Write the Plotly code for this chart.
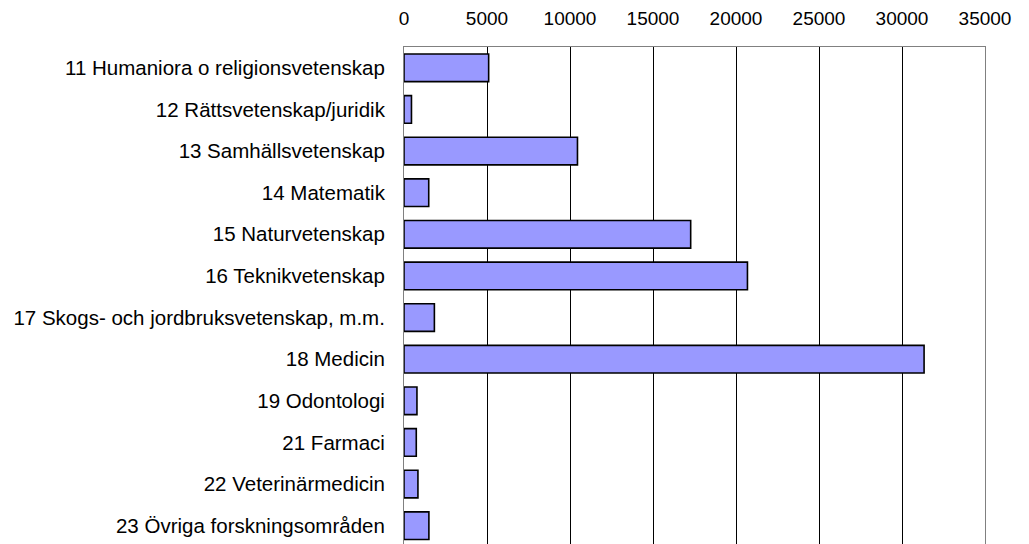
import plotly.graph_objects as go

# Research areas and their values
categories = [
    "11 Humaniora o religionsvetenskap",
    "12 Rättsvetenskap/juridik",
    "13 Samhällsvetenskap",
    "14 Matematik",
    "15 Naturvetenskap",
    "16 Teknikvetenskap",
    "17 Skogs- och jordbruksvetenskap, m.m.",
    "18 Medicin",
    "19 Odontologi",
    "21 Farmaci",
    "22 Veterinärmedicin",
    "23 Övriga forskningsområden",
]
values = [5100, 450, 10450, 1490, 17270, 20690, 1830, 31330, 780, 740, 840, 1500]
x_ticks = [0, 5000, 10000, 15000, 20000, 25000, 30000, 35000]

fig = go.Figure(
    go.Bar(
        x=values,
        y=categories,
        orientation="h",
        marker=dict(color="#9999FF", line=dict(color="#000000", width=1.6)),
        width=0.665,
    )
)

family = "Liberation Sans, Arial, sans-serif"
tick_font = dict(family=family, size=19, color="#000000")
cat_font = dict(family=family, size=20.5, color="#000000")

fig.update_layout(
    width=1029,
    height=544,
    margin=dict(l=404, r=44, t=47, b=0, pad=0),
    paper_bgcolor="#FFFFFF",
    plot_bgcolor="#FFFFFF",
    font=tick_font,
    showlegend=False,
    bargap=0.335,
)

fig.update_xaxes(
    side="top",
    range=[0, 35000],
    tickvals=x_ticks,
    ticktext=[str(v) for v in x_ticks],
    showgrid=True,
    gridcolor="#000000",
    gridwidth=1,
    zeroline=False,
    showline=True,
    linecolor="#808080",
    linewidth=1,
    mirror=True,
    ticks="outside",
    ticklen=13,
    tickcolor="rgba(0,0,0,0)",
    tickfont=tick_font,
)

fig.update_yaxes(
    type="category",
    categoryorder="array",
    categoryarray=categories,
    range=[11.44, -0.5],
    showgrid=False,
    zeroline=False,
    showline=True,
    linecolor="#808080",
    linewidth=1,
    mirror=True,
    ticks="outside",
    ticklen=14,
    tickcolor="rgba(0,0,0,0)",
    tickfont=cat_font,
)

fig.write_html("out.html")
